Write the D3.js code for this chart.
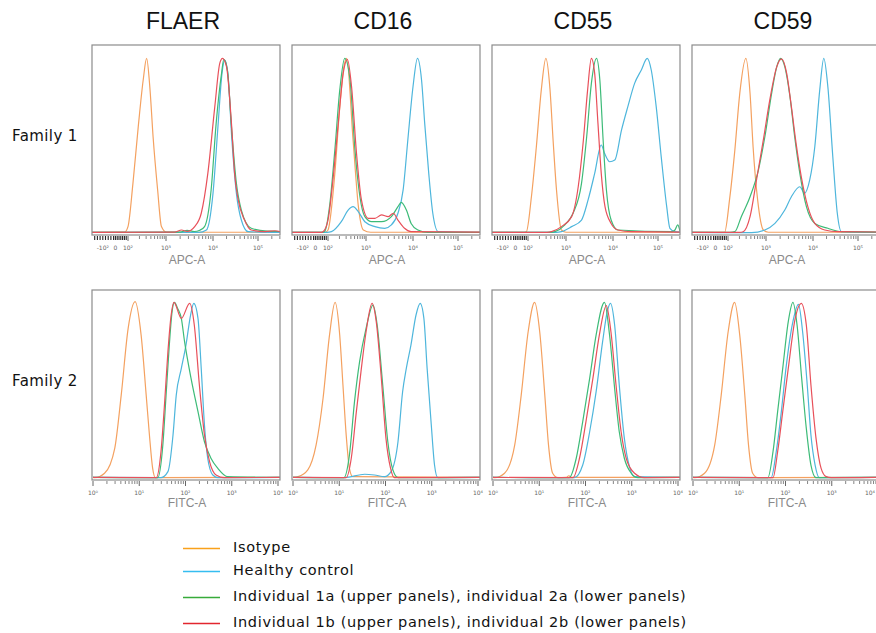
<!DOCTYPE html>
<html>
<head>
<meta charset="utf-8">
<script src="https://cdn.jsdelivr.net/npm/d3@7"></script>
<style>
body { margin: 0; background: #fff; }
svg { display: block; }
.title { font-family: "Liberation Sans", Arial, sans-serif; font-size: 23px; fill: #111; }
.rowlabel { font-family: "DejaVu Sans", Verdana, sans-serif; font-size: 15px; letter-spacing: 0.4px; fill: #111; }
.axislabel { font-family: "Liberation Sans", Arial, sans-serif; font-size: 12px; fill: #8a8a8a; }
.ticklabel { font-family: "DejaVu Sans", sans-serif; font-size: 6px; fill: #666; }
.legend { font-family: "DejaVu Sans", Verdana, sans-serif; font-size: 14.5px; letter-spacing: 0.67px; fill: #111; }
.frame { fill: none; stroke: #8c8c8c; stroke-width: 1.2; }
.curve { fill: none; stroke-width: 1.2; }
</style>
</head>
<body>
<script>
const width = 876;
const height = 633;

const markers = ["FLAER", "CD16", "CD55", "CD59"];
const families = ["Family 1", "Family 2"];
const channels = ["APC-A", "FITC-A"];
const seriesNames = ["Isotype", "Healthy control",
    "Individual 1a (upper panels), individual 2a (lower panels)",
    "Individual 1b (upper panels), individual 2b (lower panels)"];
const lineColors = ["#f4a160", "#4eb6dc", "#3dbb78", "#e8505a"];
const legendColors = ["#f9a11b", "#35bdf0", "#37ab3a", "#e2262e"];

// axis ticks, in log10 units
const topTickValues = [0.6, 1.3, 2, 3, 4, 5];
const topTickText = ["-10²", "0", "10²", "10³", "10⁴", "10⁵"];
const topClusterTicks = [0.15, 0.3, 0.45, 0.6, 0.75, 0.9, 1.05, 1.2, 1.3, 1.4, 1.5, 1.6, 1.7, 1.8, 1.9];
const bottomTickValues = [0, 1, 2, 3, 4];
const bottomTickText = ["10⁰", "10¹", "10²", "10³", "10⁴"];

// curves: [log10 intensity, % of panel height]
// family 1 (APC-A)
const f1FlaerIso = [[0,0.4],[1.81,0.5],[2.00,3.4],[2.13,26.4],[2.27,56.6],[2.40,81.4],[2.49,92.9],[2.58,76.1],[2.66,51.2],[2.78,22.9],[2.88,3.4],[3.01,0.4],[5.48,0.4]];
const f1FlaerHc = [[0,0.3],[3.7,0.3],[3.86,1.6],[4.00,21.1],[4.11,56.6],[4.20,84.9],[4.26,92.0],[4.33,84.9],[4.42,49.5],[4.52,21.1],[4.63,6.9],[4.78,0.7],[5.48,0.3]];
const f1FlaerA = [[0,0.3],[3.3,0.5],[3.45,1.4],[3.6,0.8],[3.72,1.5],[3.82,3.4],[3.96,22.9],[4.07,58.3],[4.19,84.9],[4.24,92.4],[4.32,86.7],[4.41,56.6],[4.52,26.4],[4.63,12.2],[4.85,2.5],[5.2,1.0],[5.48,0.8]];
const f1FlaerB = [[0,0.3],[3.19,0.5],[3.33,1.6],[3.45,0.8],[3.61,3.4],[3.75,10.5],[3.89,31.7],[4.04,67.2],[4.15,90.2],[4.21,92.9],[4.30,88.5],[4.41,58.3],[4.48,31.7],[4.56,17.6],[4.70,6.9],[4.85,1.6],[5.15,0.7],[5.37,1.2],[5.48,0.7]];

const f1Cd16Iso = [[0,0.4],[1.85,0.4],[2.00,1.6],[2.18,31.7],[2.31,67.2],[2.42,88.5],[2.49,92.9],[2.66,49.5],[2.80,14.0],[2.93,1.6],[3.1,0.4],[5.48,0.4]];
const f1Cd16Hc = [[0,0.3],[1.95,0.3],[2.09,0.7],[2.35,6.0],[2.53,12.2],[2.66,14.0],[2.80,11.3],[2.97,6.0],[3.19,3.4],[3.40,2.5],[3.54,4.3],[3.68,10.5],[3.79,22.9],[3.89,49.5],[4.00,77.8],[4.10,92.9],[4.19,81.4],[4.26,58.3],[4.35,31.7],[4.44,10.5],[4.56,0.7],[5.48,0.3]];
const f1Cd16A = [[0,0.3],[1.65,0.3],[1.81,0.7],[2.04,14.0],[2.18,44.1],[2.31,76.1],[2.44,92.9],[2.58,81.4],[2.71,44.1],[2.84,19.3],[2.97,8.7],[3.12,6.0],[3.33,6.0],[3.54,8.7],[3.68,14.0],[3.75,16.3],[3.86,12.2],[3.96,5.1],[4.11,1.6],[4.33,0.3],[5.48,0.3]];
const f1Cd16B = [[0,0.3],[1.6,0.3],[1.72,0.7],[2.00,6.9],[2.13,28.2],[2.27,58.3],[2.40,84.9],[2.51,92.4],[2.62,77.8],[2.75,42.4],[2.88,17.6],[3.05,7.8],[3.19,7.8],[3.33,9.6],[3.47,8.7],[3.58,10.5],[3.68,6.9],[3.82,2.5],[3.96,0.7],[5.48,0.5]];

const f1Cd55Iso = [[0,0.4],[1.8,0.4],[1.91,0.7],[2.09,19.3],[2.22,45.9],[2.35,76.1],[2.47,92.9],[2.58,76.1],[2.66,49.5],[2.75,22.9],[2.88,1.6],[3.0,0.4],[5.48,0.4]];
const f1Cd55Hc = [[0,0.3],[2.75,0.3],[2.88,0.7],[3.12,3.4],[3.33,6.9],[3.47,17.6],[3.61,31.7],[3.75,46.8],[3.82,42.4],[3.93,37.9],[4.04,38.8],[4.19,54.8],[4.33,67.2],[4.48,79.6],[4.63,86.7],[4.76,92.9],[4.85,86.7],[4.96,67.2],[5.07,40.6],[5.19,14.0],[5.26,2.5],[5.37,0.7],[5.48,0.5]];
const f1Cd55A = [[0,0.3],[2.6,0.3],[2.71,0.7],[2.97,4.3],[3.15,10.5],[3.33,26.4],[3.44,51.2],[3.54,79.6],[3.65,92.9],[3.72,81.4],[3.79,49.5],[3.86,22.9],[3.96,6.9],[4.11,1.6],[5.3,0.7],[5.37,1.6],[5.43,4.3],[5.48,1.0]];
const f1Cd55B = [[0,0.3],[2.5,0.3],[2.62,0.7],[2.88,3.4],[3.12,8.7],[3.26,24.6],[3.37,49.5],[3.46,76.1],[3.54,92.9],[3.61,84.9],[3.68,58.3],[3.75,31.7],[3.83,14.0],[3.96,5.1],[4.11,1.6],[4.41,0.7],[5.48,0.5]];

const f1Cd59Iso = [[0,0.4],[1.81,0.3],[2.04,17.6],[2.18,44.1],[2.31,74.3],[2.47,92.9],[2.58,74.3],[2.66,45.9],[2.78,17.6],[2.93,1.6],[3.05,0.4],[5.48,0.4]];
const f1Cd59Hc = [[0,0.3],[2.62,0.2],[2.97,1.6],[3.19,5.1],[3.40,12.2],[3.54,19.3],[3.72,24.6],[3.82,21.1],[3.93,28.2],[4.04,45.9],[4.15,76.1],[4.24,92.9],[4.33,77.8],[4.44,40.6],[4.54,10.5],[4.63,0.7],[5.48,0.3]];
const f1Cd59A = [[0,0.3],[2.05,0.3],[2.18,0.7],[2.35,8.7],[2.58,19.3],[2.80,33.5],[2.97,51.2],[3.12,74.3],[3.23,88.5],[3.31,92.9],[3.40,88.5],[3.51,72.5],[3.61,51.2],[3.72,31.7],[3.86,14.0],[4.04,5.1],[4.33,2.5],[4.63,0.7],[5.48,0.5]];
const f1Cd59B = [[0,0.3],[2.3,0.3],[2.40,0.7],[2.58,8.7],[2.75,28.2],[2.93,49.5],[3.08,70.7],[3.23,88.5],[3.33,92.6],[3.44,84.9],[3.54,67.2],[3.65,45.9],[3.75,30.0],[3.89,14.0],[4.04,5.1],[4.26,1.6],[4.56,0.7],[5.48,0.5]];

// family 2 (FITC-A)
const f2FlaerIso = [[0,0.3],[0.04,0.2],[0.25,2.5],[0.47,15.8],[0.61,44.1],[0.76,79.6],[0.91,93.8],[1.04,76.1],[1.15,44.1],[1.22,22.9],[1.29,5.1],[1.35,0.2],[4.04,0.3]];
const f2FlaerHc = [[0,0.3],[1.47,0.2],[1.62,3.4],[1.73,22.9],[1.80,44.1],[1.91,58.3],[2.01,70.7],[2.11,86.7],[2.18,92.9],[2.27,84.9],[2.34,58.3],[2.41,28.2],[2.48,10.5],[2.59,1.6],[2.70,0.2],[4.04,0.3]];
const f2FlaerA = [[0,0.3],[1.40,0.2],[1.51,17.6],[1.58,44.1],[1.65,70.7],[1.71,88.5],[1.76,93.4],[1.83,90.2],[1.91,84.9],[1.98,72.5],[2.12,53.0],[2.27,35.3],[2.41,19.3],[2.55,10.5],[2.70,5.1],[2.91,0.7],[4.04,0.3]];
const f2FlaerB = [[0,0.3],[1.37,0.2],[1.47,14.0],[1.55,40.6],[1.62,67.2],[1.69,86.7],[1.75,93.4],[1.91,84.9],[2.09,92.9],[2.19,81.4],[2.30,49.5],[2.41,22.9],[2.52,8.7],[2.66,1.6],[2.84,0.2],[4.04,0.3]];

const f2Cd16Iso = [[0,0.3],[0.11,0.7],[0.32,4.3],[0.50,17.6],[0.65,42.4],[0.79,76.1],[0.91,93.4],[1.01,76.1],[1.08,49.5],[1.15,22.9],[1.22,5.1],[1.29,0.7],[4.04,0.3]];
const f2Cd16Hc = [[0,0.3],[1.12,0.2],[1.55,2.0],[1.76,1.6],[1.98,0.7],[2.12,3.4],[2.27,19.3],[2.37,45.9],[2.45,58.3],[2.55,70.7],[2.66,86.7],[2.75,92.9],[2.83,84.9],[2.90,58.3],[2.99,28.2],[3.06,6.9],[3.13,0.2],[4.04,0.3]];
const f2Cd16A = [[0,0.3],[1.10,0.2],[1.22,12.2],[1.33,40.6],[1.44,61.9],[1.58,79.6],[1.73,92.0],[1.82,81.4],[1.94,49.5],[2.05,19.3],[2.16,4.3],[2.27,0.2],[4.04,0.3]];
const f2Cd16B = [[0,0.3],[1.15,0.2],[1.26,10.5],[1.37,35.3],[1.47,56.6],[1.58,77.8],[1.71,92.9],[1.80,83.2],[1.91,53.0],[2.01,21.1],[2.11,5.1],[2.19,0.2],[4.04,0.3]];

const f2Cd55Iso = [[0,0.3],[0.04,0.2],[0.25,2.5],[0.47,17.6],[0.61,44.1],[0.76,77.8],[0.90,93.4],[1.01,77.8],[1.12,44.1],[1.20,17.6],[1.29,2.5],[1.40,0.2],[1.58,0.3],[1.64,1.2],[1.70,0.3],[4.04,0.3]];
const f2Cd55Hc = [[0,0.3],[1.76,0.2],[1.94,6.9],[2.09,24.6],[2.23,45.9],[2.37,72.5],[2.47,88.5],[2.54,92.9],[2.63,81.4],[2.73,49.5],[2.84,21.1],[2.95,6.0],[3.06,0.7],[4.04,0.3]];
const f2Cd55A = [[0,0.3],[1.65,0.2],[1.80,10.5],[1.94,30.0],[2.09,53.0],[2.23,76.1],[2.41,93.4],[2.52,76.1],[2.63,47.7],[2.73,24.6],[2.84,10.5],[2.99,2.5],[3.13,0.2],[4.04,0.3]];
const f2Cd55B = [[0,0.3],[1.73,0.2],[1.87,10.5],[2.01,30.0],[2.16,53.0],[2.30,76.1],[2.45,91.7],[2.55,77.8],[2.66,49.5],[2.77,24.6],[2.88,10.5],[3.06,2.5],[3.27,0.2],[4.04,0.3]];

const f2Cd59Iso = [[0,0.3],[0.04,0.2],[0.25,2.5],[0.47,17.6],[0.61,44.1],[0.76,77.8],[0.90,93.4],[1.01,76.1],[1.12,44.1],[1.20,17.6],[1.29,2.5],[1.40,0.2],[4.04,0.3]];
const f2Cd59Hc = [[0,0.3],[1.69,0.2],[1.80,14.0],[1.91,35.3],[2.01,58.3],[2.16,83.2],[2.28,92.4],[2.37,77.8],[2.47,49.5],[2.55,22.9],[2.64,6.9],[2.73,0.2],[4.04,0.3]];
const f2Cd59A = [[0,0.3],[1.62,0.2],[1.73,14.0],[1.83,35.3],[1.94,58.3],[2.06,83.2],[2.16,93.4],[2.25,81.4],[2.35,53.0],[2.45,26.4],[2.55,6.9],[2.66,0.2],[4.04,0.3]];
const f2Cd59B = [[0,0.3],[1.73,0.2],[1.83,14.0],[1.94,35.3],[2.06,58.3],[2.21,84.9],[2.34,92.9],[2.45,81.4],[2.55,49.5],[2.66,21.1],[2.77,5.1],[2.88,0.7],[2.99,0.2],[4.04,0.3]];

// panel table: row, column, [iso, healthy, a, b]
const panels = [
    {row: 0, col: 0, curves: [f1FlaerIso, f1FlaerHc, f1FlaerA, f1FlaerB]},
    {row: 0, col: 1, curves: [f1Cd16Iso, f1Cd16Hc, f1Cd16A, f1Cd16B]},
    {row: 0, col: 2, curves: [f1Cd55Iso, f1Cd55Hc, f1Cd55A, f1Cd55B]},
    {row: 0, col: 3, curves: [f1Cd59Iso, f1Cd59Hc, f1Cd59A, f1Cd59B]},
    {row: 1, col: 0, curves: [f2FlaerIso, f2FlaerHc, f2FlaerA, f2FlaerB]},
    {row: 1, col: 1, curves: [f2Cd16Iso, f2Cd16Hc, f2Cd16A, f2Cd16B]},
    {row: 1, col: 2, curves: [f2Cd55Iso, f2Cd55Hc, f2Cd55A, f2Cd55B]},
    {row: 1, col: 3, curves: [f2Cd59Iso, f2Cd59Hc, f2Cd59A, f2Cd59B]}
];

//---------------------------LAYOUT-----------------------------//
const panelLeft = 92;
const panelStep = 200;
const panelW = 188;
const rowTop = [45, 290];
const panelH = 190;

const svg = d3.select("body").append("svg")
    .attr("width", width)
    .attr("height", height);

// x scales, one per row (biexponential-like top axis, log bottom axis)
const xTop = d3.scaleLinear()
    .domain([0, 2, 3, 4, 5, 5.48])
    .range([0, 36, 74, 121, 166, 188]);
const xBottom = d3.scaleLinear()
    .domain([0, 4])
    .range([1, 186]);
const xScales = [xTop, xBottom];

const yScale = d3.scaleLinear().domain([0, 100]).range([panelH - 2, 0]);

const line = function(xs) {
    return d3.line()
        .x(function(d) { return xs(d[0]); })
        .y(function(d) { return yScale(d[1]); })
        .curve(d3.curveMonotoneX);
};

// titles
svg.selectAll(".title")
    .data(markers)
    .enter()
    .append("text")
    .attr("class", "title")
    .attr("x", function(d, i) { return panelLeft + i * panelStep + panelW / 2 - 3; })
    .attr("y", 29)
    .attr("text-anchor", "middle")
    .text(function(d) { return d; });

// row labels
svg.selectAll(".rowlabel")
    .data(families)
    .enter()
    .append("text")
    .attr("class", "rowlabel")
    .attr("x", 12)
    .attr("y", function(d, i) { return rowTop[i] + 96; })
    .text(function(d) { return d; });

// minor ticks per decade
const minorTicks = function(from, to, max) {
    const out = [];
    for (let n = from; n <= to; n++) {
        for (let k = 2; k <= 9; k++) {
            const v = n + Math.log10(k);
            if (v <= max) out.push(v);
        }
    }
    return out;
};

const g = svg.selectAll(".panel")
    .data(panels)
    .enter()
    .append("g")
    .attr("class", "panel")
    .attr("transform", function(d) {
        return "translate(" + (panelLeft + d.col * panelStep) + "," + rowTop[d.row] + ")";
    });

g.append("clipPath")
    .attr("id", function(d, i) { return "clip" + i; })
    .append("rect")
    .attr("width", panelW)
    .attr("height", panelH);

g.each(function(p, pi) {
    const pg = d3.select(this);
    const xs = xScales[p.row];
    const left = panelLeft + p.col * panelStep;

    // ticks
    const majors = p.row === 0 ? topTickValues.slice(2) : bottomTickValues;
    const minors = p.row === 0 ? minorTicks(2, 5, 5.48) : minorTicks(0, 3, 4);
    pg.selectAll(".minor")
        .data(minors)
        .enter()
        .append("line")
        .attr("x1", function(d) { return xs(d); })
        .attr("x2", function(d) { return xs(d); })
        .attr("y1", panelH + 1)
        .attr("y2", panelH + 4)
        .attr("stroke", "#666")
        .attr("stroke-width", 0.8);
    pg.selectAll(".major")
        .data(majors)
        .enter()
        .append("line")
        .attr("x1", function(d) { return xs(d); })
        .attr("x2", function(d) { return xs(d); })
        .attr("y1", panelH + 1)
        .attr("y2", panelH + 6)
        .attr("stroke", "#555")
        .attr("stroke-width", 0.9);
    if (p.row === 0) {
        pg.selectAll(".cluster")
            .data(topClusterTicks)
            .enter()
            .append("line")
            .attr("x1", function(d) { return xs(d); })
            .attr("x2", function(d) { return xs(d); })
            .attr("y1", panelH + 1)
            .attr("y2", panelH + 5)
            .attr("stroke", "#222")
            .attr("stroke-width", 1.1);
    }

    const tickVals = p.row === 0 ? topTickValues : bottomTickValues;
    const tickText = p.row === 0 ? topTickText : bottomTickText;
    pg.selectAll(".ticklabel")
        .data(tickVals)
        .enter()
        .append("text")
        .attr("class", "ticklabel")
        .attr("x", function(d) { return xs(d); })
        .attr("y", panelH + 15)
        .attr("text-anchor", function(d) {
            return left + xs(d) + 5 > width ? "end" : "middle";
        })
        .attr("dx", function(d) {
            return left + xs(d) + 5 > width ? (width - left - xs(d) - 1) : 0;
        })
        .text(function(d, i) { return tickText[i]; });

    pg.append("text")
        .attr("class", "axislabel")
        .attr("x", panelW / 2 + 1)
        .attr("y", p.row === 0 ? panelH + 29 : panelH + 27)
        .attr("text-anchor", "middle")
        .text(channels[p.row]);

    // curves
    pg.append("g")
        .attr("clip-path", "url(#clip" + pi + ")")
        .selectAll("path")
        .data(p.curves)
        .enter()
        .append("path")
        .attr("class", "curve")
        .attr("stroke", function(d, i) { return lineColors[i]; })
        .attr("d", line(xs));

    // frame
    pg.append("rect")
        .attr("class", "frame")
        .attr("width", panelW)
        .attr("height", panelH);
});

//---------------------------LEGEND-----------------------------//
const legendBase = [552, 575, 601, 627];
const legend = svg.selectAll(".legenditem")
    .data(seriesNames)
    .enter()
    .append("g")
    .attr("class", "legenditem");

legend.append("line")
    .attr("x1", 183)
    .attr("x2", 220)
    .attr("y1", function(d, i) { return legendBase[i] - 3.5; })
    .attr("y2", function(d, i) { return legendBase[i] - 3.5; })
    .attr("stroke", function(d, i) { return legendColors[i]; })
    .attr("stroke-width", 1.6);

legend.append("text")
    .attr("class", "legend")
    .attr("x", 233)
    .attr("y", function(d, i) { return legendBase[i]; })
    .text(function(d) { return d; });
</script>
</body>
</html>
